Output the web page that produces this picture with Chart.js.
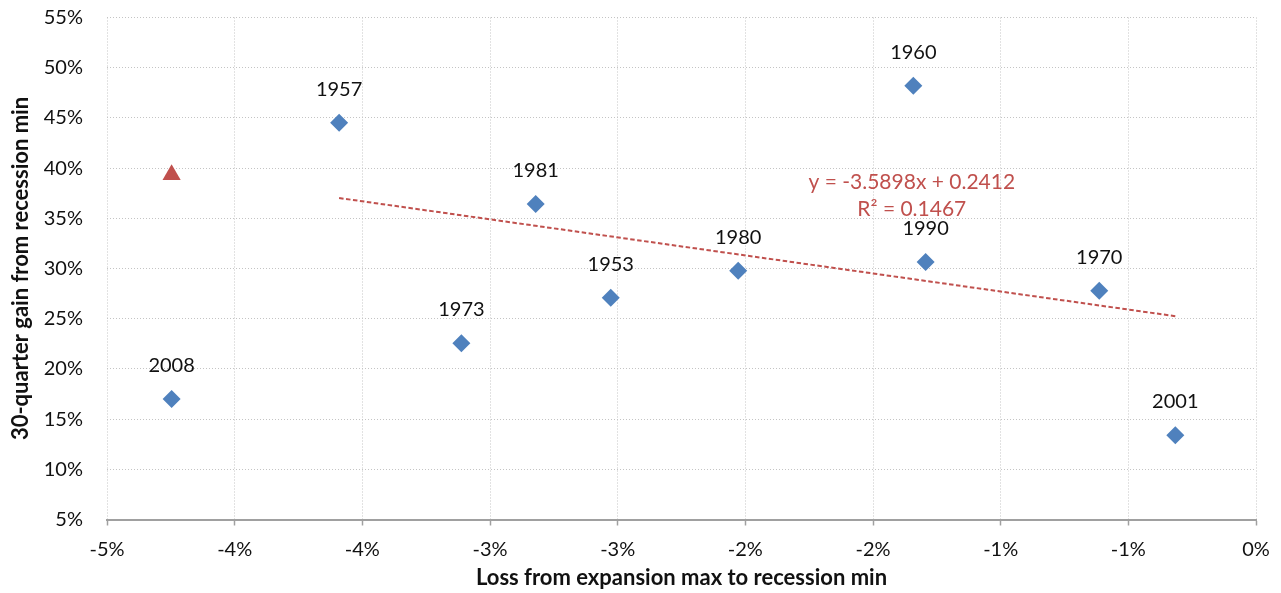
<!DOCTYPE html>
<html>
<head>
<meta charset="utf-8">
<script src="https://cdn.jsdelivr.net/npm/chart.js@4.4.1/dist/chart.umd.min.js"></script>
<style>
  html, body { margin: 0; padding: 0; background: #ffffff; }
  #wrap { width: 1281px; height: 593px; position: relative; }
</style>
</head>
<body>
<div id="wrap"><canvas id="c"></canvas></div>
<script>
// ---- data (percent units) ----
const years = ['1953', '1957', '1960', '1970', '1973', '1980', '1981', '1990', '2001', '2008'];
const lossX = [-2.527, -3.591, -1.342, -0.614, -3.112, -2.028, -2.821, -1.294, -0.316, -4.247];
const gainY = [27.09, 44.52, 48.21, 27.79, 22.55, 29.78, 36.42, 30.65, 13.39, 17.00];

const extraX = [-4.247];
const extraY = [39.33];

const trendX = [-3.591, -0.316];
const trendY = [37.02, 25.25];
const trendText = ['y = -3.5898x + 0.2412', 'R\u00B2 = 0.1467'];

const xTickValues = [-4.5, -4, -3.5, -3, -2.5, -2, -1.5, -1, -0.5, 0];
const xTickLabels = ['-5%', '-4%', '-4%', '-3%', '-3%', '-2%', '-2%', '-1%', '-1%', '0%'];
const yTickValues = [5, 10, 15, 20, 25, 30, 35, 40, 45, 50, 55];
const yTickLabels = ['5%', '10%', '15%', '20%', '25%', '30%', '35%', '40%', '45%', '50%', '55%'];

const xTitle = 'Loss from expansion max to recession min';
const yTitle = '30-quarter gain from recession min';

// ---- styles ----
const FONT = 'Lato';
const BLUE = '#4f81bd';
const RED = '#c0504d';
const GRID = '#c4c4c4';
const AXIS = '#a0a0a0';
const TEXT = '#111111';

const toPts = (xs, ys) => xs.map((x, i) => ({ x: x, y: ys[i] }));

const labelPlugin = {
  id: 'pointLabels',
  afterDatasetsDraw(chart) {
    const ctx = chart.ctx;
    const meta = chart.getDatasetMeta(0);
    ctx.save();
    ctx.font = '20px ' + FONT;
    ctx.fillStyle = TEXT;
    ctx.textAlign = 'center';
    ctx.textBaseline = 'alphabetic';
    meta.data.forEach((pt, i) => {
      ctx.fillText(years[i], pt.x, pt.y - 27);
    });
    // trendline equation label, anchored near the line
    const xs = chart.scales.x, ys = chart.scales.y;
    const tx = xs.getPixelForValue(-1.348);
    const ty = ys.getPixelForValue(37.92);
    ctx.font = '21px ' + FONT;
    ctx.fillStyle = RED;
    ctx.fillText(trendText[0], tx, ty);
    ctx.fillText(trendText[1], tx, ty + 27);
    ctx.restore();
  }
};

new Chart(document.getElementById('c'), {
  type: 'scatter',
  data: {
    datasets: [
      {
        label: 'Recessions',
        data: toPts(lossX, gainY),
        pointStyle: 'rectRot',
        pointRadius: 9,
        pointHoverRadius: 9,
        backgroundColor: BLUE,
        borderColor: BLUE,
        borderWidth: 0,
        order: 1
      },
      {
        label: 'Current',
        data: toPts(extraX, extraY),
        pointStyle: 'triangle',
        pointRadius: 10.5,
        pointHoverRadius: 10.5,
        backgroundColor: RED,
        borderColor: RED,
        borderWidth: 0,
        order: 2
      },
      {
        label: 'Trend',
        data: toPts(trendX, trendY),
        showLine: true,
        pointRadius: 0,
        borderColor: RED,
        borderWidth: 2,
        borderDash: [4.5, 2.5],
        fill: false,
        order: 3
      }
    ]
  },
  options: {
    responsive: true,
    maintainAspectRatio: false,
    animation: false,
    events: [],
    layout: { autoPadding: false, padding: { top: 17.5, right: 25, left: 0, bottom: 0 } },
    plugins: {
      legend: { display: false },
      tooltip: { enabled: false },
      title: { display: false }
    },
    scales: {
      x: {
        type: 'linear',
        min: -4.5,
        max: 0,
        afterBuildTicks: s => { s.ticks = xTickValues.map(v => ({ value: v })); },
        afterFit: s => { s.height = 73.5; s.paddingLeft = 0; s.paddingRight = 0; },
        ticks: {
          callback: (v, i) => xTickLabels[i],
          font: { family: FONT, size: 20 },
          color: TEXT,
          padding: 12,
          maxRotation: 0,
          autoSkip: false
        },
        grid: {
          color: GRID,
          lineWidth: 1,
          drawTicks: true,
          tickLength: 6,
          tickColor: AXIS,
          tickWidth: 1.5,
          tickBorderDash: []
        },
        border: { display: true, color: AXIS, width: 2, dash: [1, 2] },
        title: {
          display: true,
          text: xTitle,
          font: { family: FONT, size: 22, weight: 'bold' },
          color: TEXT,
          padding: { top: 0, bottom: 1.5 }
        }
      },
      y: {
        type: 'linear',
        min: 5,
        max: 55,
        afterBuildTicks: s => { s.ticks = yTickValues.map(v => ({ value: v })); },
        afterFit: s => { s.width = 107; s.paddingTop = 0; s.paddingBottom = 0; },
        ticks: {
          callback: (v, i) => yTickLabels[i],
          font: { family: FONT, size: 20 },
          color: TEXT,
          padding: 24
        },
        grid: {
          color: GRID,
          lineWidth: 1,
          drawTicks: false
        },
        border: { display: false, dash: [1, 2] },
        title: {
          display: true,
          text: yTitle,
          font: { family: FONT, size: 22, weight: 'bold' },
          color: TEXT,
          padding: { top: 8, bottom: 0 }
        }
      }
    }
  },
  plugins: [labelPlugin]
});
</script>
</body>
</html>
